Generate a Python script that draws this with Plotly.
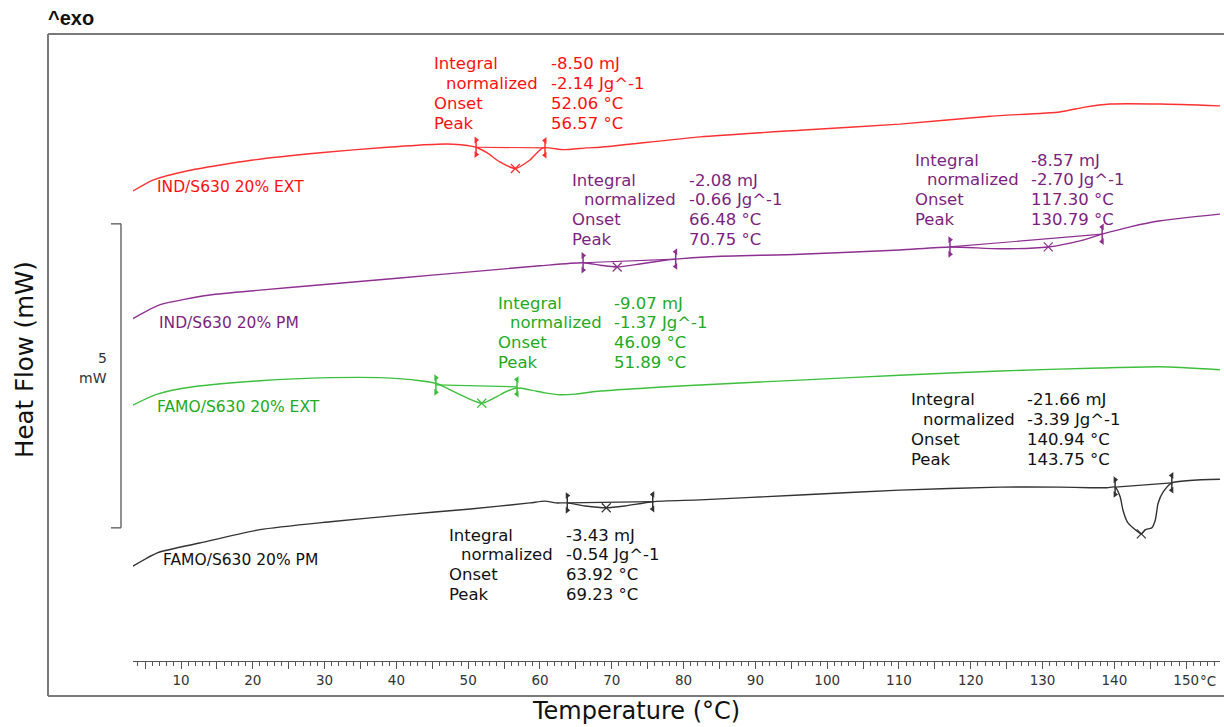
import plotly.graph_objects as go

# ---------------- data (Temperature in °C, Heat flow in mW, stacked offsets) ----------------
ind_ext_T = [3.3, 6.1, 10.8, 20.0, 29.4, 38.7, 45.7, 47.9, 51.1, 52.6, 54.4, 56.57, 58.6, 60.4,
             63.2, 66.5, 68.4, 82.3, 96.2, 110.1, 122.7, 132.4, 135.9, 139.4, 146.4, 154.7]
ind_ext_HF = [7.73, 7.91, 8.06, 8.24, 8.36, 8.45, 8.50, 8.50, 8.45, 8.36, 8.21, 8.10, 8.24, 8.44,
              8.41, 8.44, 8.45, 8.62, 8.73, 8.83, 8.96, 9.03, 9.11, 9.16, 9.16, 9.13]

ind_pm_T = [3.3, 7.1, 14.0, 21.0, 30.8, 40.5, 50.3, 60.0, 66.0, 68.4, 70.75, 73.9, 76.7, 78.9,
            83.7, 96.2, 110.1, 117.1, 124.1, 130.79, 135.2, 138.3, 142.2, 146.4, 154.7]
ind_pm_HF = [5.63, 5.86, 6.02, 6.10, 6.20, 6.30, 6.40, 6.50, 6.55, 6.51, 6.48, 6.53, 6.58, 6.61,
             6.65, 6.69, 6.76, 6.81, 6.78, 6.81, 6.91, 7.02, 7.14, 7.24, 7.35]

famo_ext_T = [3.3, 6.7, 11.7, 21.0, 30.8, 37.7, 43.3, 45.7, 47.5, 49.6, 51.89, 53.7, 55.1, 56.8,
              58.6, 60.7, 62.8, 64.9, 68.4, 82.3, 96.2, 110.1, 124.1, 138.0, 146.4, 154.7]
famo_ext_HF = [4.21, 4.39, 4.51, 4.61, 4.66, 4.66, 4.61, 4.56, 4.46, 4.34, 4.24, 4.33, 4.42, 4.49,
               4.46, 4.41, 4.38, 4.39, 4.44, 4.54, 4.62, 4.70, 4.77, 4.82, 4.84, 4.79]

famo_pm_T = [3.3, 6.7, 12.6, 21.0, 30.8, 40.5, 50.3, 58.6, 60.7, 62.2, 63.8, 66.3, 69.23, 71.8,
             75.7, 82.3, 96.2, 110.1, 124.1, 132.4, 136.6, 139.0, 140.1, 140.8, 141.2, 141.8,
             142.6, 143.75, 144.3, 145.2, 145.7, 146.1, 146.8, 148.0, 154.7]
famo_pm_HF = [1.56, 1.78, 1.94, 2.16, 2.29, 2.40, 2.50, 2.60, 2.63, 2.60, 2.60, 2.55, 2.52, 2.55,
              2.62, 2.65, 2.73, 2.81, 2.86, 2.86, 2.85, 2.85, 2.86, 2.70, 2.48, 2.29,
              2.19, 2.09, 2.16, 2.19, 2.32, 2.60, 2.78, 2.93, 2.99]

# integration limits (T, HF) and peaks (T, HF)
ind_ext_lim = [(51.1, 8.45), (60.7, 8.44)]
ind_ext_peak = [(56.57, 8.10)]
ind_pm_lim = [(66.0, 6.55), (78.9, 6.61), (117.1, 6.81), (138.3, 7.02)]
ind_pm_peak = [(70.75, 6.48), (130.79, 6.81)]
famo_ext_lim = [(45.5, 4.54), (56.8, 4.51)]
famo_ext_peak = [(51.89, 4.24)]
famo_pm_lim = [(63.8, 2.60), (75.7, 2.62), (140.1, 2.86), (148.0, 2.93)]
famo_pm_peak = [(69.23, 2.52), (143.75, 2.09)]

# evaluation texts
ind_ext_vals = ["-8.50 mJ", "-2.14 Jg^-1", "52.06 °C", "56.57 °C"]
ind_pm_vals1 = ["-2.08 mJ", "-0.66 Jg^-1", "66.48 °C", "70.75 °C"]
ind_pm_vals2 = ["-8.57 mJ", "-2.70 Jg^-1", "117.30 °C", "130.79 °C"]
famo_ext_vals = ["-9.07 mJ", "-1.37 Jg^-1", "46.09 °C", "51.89 °C"]
famo_pm_vals1 = ["-3.43 mJ", "-0.54 Jg^-1", "63.92 °C", "69.23 °C"]
famo_pm_vals2 = ["-21.66 mJ", "-3.39 Jg^-1", "140.94 °C", "143.75 °C"]
row_labels = ["Integral", "normalized", "Onset", "Peak"]

curve_names = ["IND/S630 20% EXT", "IND/S630 20% PM", "FAMO/S630 20% EXT", "FAMO/S630 20% PM"]
x_ticks = [5, 10, 15, 20, 25, 30, 35, 40, 45, 50, 55, 60, 65, 70, 75, 80, 85, 90, 95, 100,
           105, 110, 115, 120, 125, 130, 135, 140, 145, 150]

# ---------------- styling / layout ----------------
W, H = 1224, 727
ML, MR, MT, MB = 48, 2, 34, 31
PW, PH = W - ML - MR, H - MT - MB
FONT = "DejaVu Sans"

def pxx(x):
    return (x - ML) / PW

def pxy(y):
    return (H - MB - y) / PH

RED_L, RED_T = "#ff3030", "#ff1010"
PUR_L, PUR_T = "#8e2f92", "#7d1f80"
GRN_L, GRN_T = "#3cc03c", "#22aa22"
BLK_L, BLK_T = "#333333", "#111111"

fig = go.Figure()

def add_curve(T, HF, lims, peaks, col):
    fig.add_trace(go.Scatter(x=T, y=HF, mode="lines",
                             line=dict(color=col, width=1.4, shape="spline", smoothing=0.6),
                             hoverinfo="skip"))
    for i in range(0, len(lims), 2):
        (t0, h0), (t1, h1) = lims[i], lims[i + 1]
        fig.add_trace(go.Scatter(x=[t0, t1], y=[h0, h1], mode="lines",
                                 line=dict(color=col, width=1.2), hoverinfo="skip"))
        for (t, h), sym in (((t0, h0), "triangle-right"), ((t1, h1), "triangle-left")):
            fig.add_trace(go.Scatter(x=[t, t], y=[h - 0.12, h + 0.12], mode="lines+markers",
                                     line=dict(color=col, width=1.5),
                                     marker=dict(symbol=sym, size=6, color=col),
                                     hoverinfo="skip"))
    fig.add_trace(go.Scatter(x=[p[0] for p in peaks], y=[p[1] for p in peaks], mode="markers",
                             marker=dict(symbol="x-thin", size=9, line=dict(color=col, width=1.2)),
                             hoverinfo="skip"))

add_curve(ind_ext_T, ind_ext_HF, ind_ext_lim, ind_ext_peak, RED_L)
add_curve(ind_pm_T, ind_pm_HF, ind_pm_lim, ind_pm_peak, PUR_L)
add_curve(famo_ext_T, famo_ext_HF, famo_ext_lim, famo_ext_peak, GRN_L)
add_curve(famo_pm_T, famo_pm_HF, famo_pm_lim, famo_pm_peak, BLK_L)

annotations = []

def txt(x, y, s, col, size=16.5, anchor="left"):
    annotations.append(dict(x=pxx(x), y=pxy(y), xref="paper", yref="paper", text=s,
                            showarrow=False, xanchor=anchor, yanchor="middle",
                            font=dict(family=FONT, size=size, color=col)))

def block(xl, xv, ytop, vals, col):
    for i, (lab, v) in enumerate(zip(row_labels, vals)):
        y = ytop + i * 19.8
        txt(xl + (12 if i == 1 else 0), y, lab, col)
        txt(xv, y, v, col)

block(432, 549, 64, ind_ext_vals, RED_T)
block(570, 687, 180, ind_pm_vals1, PUR_T)
block(913, 1029, 160, ind_pm_vals2, PUR_T)
block(496, 612, 303, famo_ext_vals, GRN_T)
block(909, 1025, 400, famo_pm_vals2, BLK_T)
block(447, 564, 535, famo_pm_vals1, BLK_T)

# curve names
txt(155, 187, curve_names[0], RED_T, size=15.5)
txt(157, 323, curve_names[1], PUR_T, size=15.5)
txt(155, 407, curve_names[2], GRN_T, size=15.5)
txt(161, 560, curve_names[3], BLK_T, size=15.5)

# scale bar label
txt(109, 358, "5", "#333333", size=14, anchor="right")
txt(109, 378, "mW", "#333333", size=14, anchor="right")

# unit on x axis
txt(1198, 681, "°C", "#333333", size=13.5)

# titles
annotations.append(dict(x=pxx(636), y=pxy(711), xref="paper", yref="paper",
                        text="Temperature (°C)", showarrow=False, xanchor="center",
                        yanchor="middle", font=dict(family=FONT, size=24, color="#111111")))
annotations.append(dict(x=pxx(24), y=pxy(360), xref="paper", yref="paper",
                        text="Heat Flow (mW)", showarrow=False, textangle=-90,
                        xanchor="center", yanchor="middle",
                        font=dict(family=FONT, size=24.5, color="#111111")))
annotations.append(dict(x=pxx(46), y=pxy(18), xref="paper", yref="paper",
                        text="<b>^exo</b>", showarrow=False, xanchor="left",
                        yanchor="middle", font=dict(family="Liberation Sans", size=20,
                                                    color="#111111")))

shapes = [
    # frame
    dict(type="line", xref="paper", yref="paper", x0=pxx(48), x1=pxx(1224), y0=pxy(34), y1=pxy(34),
         line=dict(color="#7a7a7a", width=2)),
    dict(type="line", xref="paper", yref="paper", x0=pxx(48), x1=pxx(48), y0=pxy(34), y1=pxy(696),
         line=dict(color="#7a7a7a", width=2)),
    dict(type="line", xref="paper", yref="paper", x0=pxx(48), x1=pxx(1224), y0=pxy(696), y1=pxy(696),
         line=dict(color="#7a7a7a", width=2)),
    # scale bar (5 mW)
    dict(type="line", xref="paper", yref="y", x0=pxx(121), x1=pxx(121), y0=2.19, y1=7.19,
         line=dict(color="#555555", width=1.3)),
    dict(type="line", xref="paper", yref="y", x0=pxx(111), x1=pxx(121), y0=2.19, y1=2.19,
         line=dict(color="#555555", width=1.3)),
    dict(type="line", xref="paper", yref="y", x0=pxx(111), x1=pxx(121), y0=7.19, y1=7.19,
         line=dict(color="#555555", width=1.3)),
]

tick_text = [str(v) if v % 10 == 0 else "" for v in x_ticks]

y_bottom = (H - MB - 661) / PH
fig.update_layout(
    width=W, height=H, margin=dict(l=ML, r=MR, t=MT, b=MB),
    paper_bgcolor="white", plot_bgcolor="white", showlegend=False,
    annotations=annotations, shapes=shapes,
    xaxis=dict(domain=[pxx(133), pxx(1220)], range=[3.315, 154.71],
               showgrid=False, zeroline=False, showline=True, linecolor="#555555", linewidth=1,
               tickmode="array", tickvals=x_ticks, ticktext=tick_text,
               ticks="outside", ticklen=7, tickwidth=1, tickcolor="#555555",
               tickfont=dict(family=FONT, size=13.5, color="#333333"),
               minor=dict(tickmode="linear", tick0=0, dtick=1, ticks="outside", ticklen=4,
                          tickwidth=1, tickcolor="#555555", showgrid=False),
               fixedrange=True),
    yaxis=dict(domain=[y_bottom, 1], range=[0, (661 - 34) / 60.8], visible=False,
               fixedrange=True),
)

fig.write_html("out.html")
